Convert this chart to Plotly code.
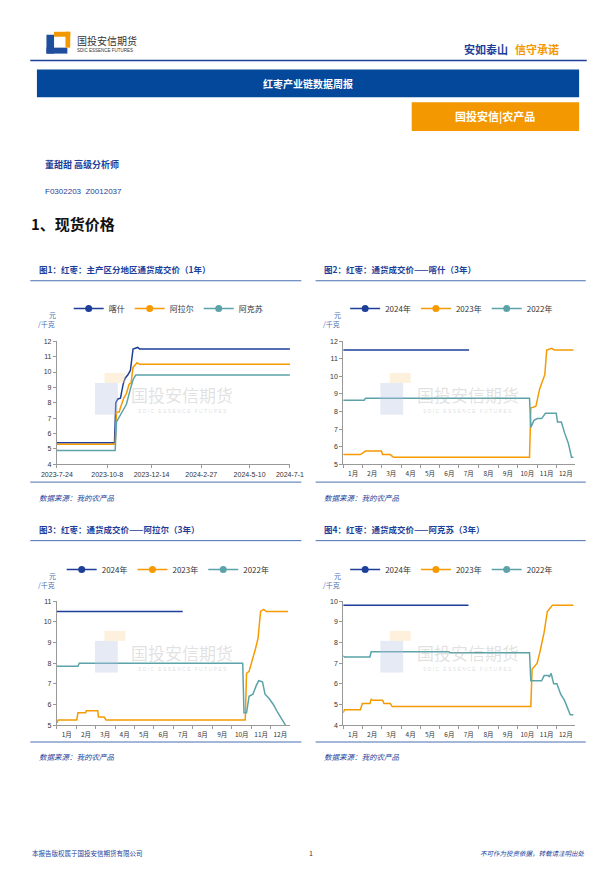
import plotly.graph_objects as go

W, H = 615, 870
def px(x): return x / W
def py(y): return 1 - y / H

NAVY, ORANGE, TEAL = "#1d3f9a", "#f59a00", "#5ba3a8"
CJK = "Noto Sans CJK SC"

# ---- Chart 1 data (1 year) ----
c1_kashi_d = ["2023-07-24","2023-10-19","2023-10-21","2023-10-24","2023-10-28","2023-11-01","2023-11-04","2023-11-08","2023-11-12","2023-11-16","2023-11-23","2023-11-26","2024-07-10"]
c1_kashi_v = [5.4,5.4,8.0,8.25,8.3,9.2,9.6,9.8,10.1,11.5,11.6,11.5,11.5]
c1_alaer_d = ["2023-07-24","2023-10-20","2023-10-22","2023-10-26","2023-10-29","2023-11-02","2023-11-06","2023-11-10","2023-11-13","2023-11-16","2023-11-22","2023-11-26","2024-07-10"]
c1_alaer_v = [5.3,5.3,7.4,7.4,7.8,8.3,8.6,9.2,9.3,10.3,10.6,10.5,10.5]
c1_akesu_d = ["2023-07-24","2023-10-20","2023-10-22","2023-10-28","2023-11-06","2023-11-12","2023-11-16","2023-11-20","2024-07-10"]
c1_akesu_v = [4.9,4.9,6.75,7.2,7.9,8.9,9.5,9.8,9.8]
c1_ticks = ["2023-07-24","2023-10-08","2023-12-14","2024-02-27","2024-05-10","2024-07-10"]
c1_ticktext = ["2023-7-24","2023-10-8","2023-12-14","2024-2-27","2024-5-10","2024-7-1"]

# ---- Chart 2: Kashi 3 years (mapped onto one calendar year) ----
c2_2024_d = ["01-01","07-17"]; c2_2024_v = [11.5,11.5]
c2_2023_d = ["01-01","01-28","02-05","03-01","03-03","03-15","03-20","10-20","10-22","10-30","11-05","11-09","11-13","11-16","11-24","11-28","12-28"]
c2_2023_v = [5.55,5.55,5.75,5.75,5.55,5.55,5.4,5.4,8.2,8.3,9.3,9.7,10.1,11.5,11.6,11.5,11.5]
c2_2022_d = ["01-01","02-03","02-05","10-20","10-22","10-27","11-01","11-08","11-14","12-01","12-03","12-09","12-14","12-20","12-25","12-28"]
c2_2022_v = [8.65,8.65,8.75,8.75,7.1,7.5,7.6,7.6,7.9,7.9,7.4,7.4,6.8,6.2,5.4,5.4]

# ---- Chart 3: Alaer ----
c3_2024_d = ["01-01","07-16"]; c3_2024_v = [10.5,10.5]
c3_2023_d = ["01-01","01-03","02-01","02-03","02-15","02-16","03-05","03-06","03-15","03-18","10-22","10-24","10-28","11-03","11-07","11-11","11-15","11-20","11-24","12-28"]
c3_2023_v = [5.1,5.25,5.25,5.6,5.6,5.7,5.7,5.4,5.4,5.25,5.25,7.5,7.6,8.2,8.7,9.2,10.5,10.6,10.5,10.5]
c3_2022_d = ["01-01","02-03","02-05","10-18","10-20","10-24","10-28","11-03","11-08","11-12","11-18","11-22","11-28","12-05","12-12","12-24"]
c3_2022_v = [7.85,7.85,8.0,8.0,5.6,5.6,6.4,6.5,6.9,7.15,7.1,6.5,6.3,6.0,5.6,5.0]

# ---- Chart 4: Akesu ----
c4_2024_d = ["01-01","07-16"]; c4_2024_v = [9.8,9.8]
c4_2023_d = ["01-01","01-03","01-28","01-31","02-12","02-14","02-17","03-03","03-05","03-15","03-18","10-22","10-24","11-01","11-05","11-12","11-17","11-25","12-28"]
c4_2023_v = [4.6,4.75,4.75,5.05,5.05,5.25,5.2,5.2,5.05,5.05,4.9,4.9,6.7,7.0,7.5,8.5,9.5,9.8,9.8]
c4_2022_d = ["01-01","01-03","02-12","02-14","06-15","06-17","10-20","10-22","11-08","11-12","11-18","11-20","11-23","11-27","12-02","12-08","12-14","12-23","12-28"]
c4_2022_v = [7.35,7.3,7.3,7.55,7.55,7.5,7.5,6.15,6.15,6.4,6.4,6.35,6.5,6.0,6.0,5.5,5.2,4.5,4.5]

def yr(ds): return ["2024-" + d for d in ds]

fig = go.Figure()

def add(series, xa, ya, lg, names):
    for (d, v, col), name in zip(series, names):
        fig.add_trace(go.Scatter(x=d, y=v, mode="lines", line=dict(color=col, width=1.5),
                                 xaxis=xa, yaxis=ya, showlegend=False, hoverinfo="skip"))
        fig.add_trace(go.Scatter(x=[None], y=[None], mode="lines+markers", name=name,
                                 line=dict(color=col, width=1.5), marker=dict(color=col, size=7),
                                 xaxis=xa, yaxis=ya, legend=lg))

add([(c1_kashi_d, c1_kashi_v, NAVY), (c1_alaer_d, c1_alaer_v, ORANGE), (c1_akesu_d, c1_akesu_v, TEAL)],
    "x", "y", "legend", ["喀什", "阿拉尔", "阿克苏"])
yrs = ["2024年", "2023年", "2022年"]
add([(yr(c2_2024_d), c2_2024_v, NAVY), (yr(c2_2023_d), c2_2023_v, ORANGE), (yr(c2_2022_d), c2_2022_v, TEAL)], "x2", "y2", "legend2", yrs)
add([(yr(c3_2024_d), c3_2024_v, NAVY), (yr(c3_2023_d), c3_2023_v, ORANGE), (yr(c3_2022_d), c3_2022_v, TEAL)], "x3", "y3", "legend3", yrs)
add([(yr(c4_2024_d), c4_2024_v, NAVY), (yr(c4_2023_d), c4_2023_v, ORANGE), (yr(c4_2022_d), c4_2022_v, TEAL)], "x4", "y4", "legend4", yrs)

ax = dict(showgrid=False, showline=True, linecolor="#999", ticks="outside", tickcolor="#999", ticklen=3,
          tickfont=dict(size=7, color="#333", family="Liberation Sans"), zeroline=False)
month_ax = dict(ax, type="date", range=["2024-01-01", "2024-12-31"], dtick="M1", tick0="2024-01-01",
                ticklabelmode="period", tickformat="%-m月", tickangle=0,
                tickfont=dict(size=6.5, color="#333", family=CJK))

fig.update_layout(
    width=W, height=H, margin=dict(l=0, r=0, t=0, b=0),
    paper_bgcolor="white", plot_bgcolor="white",
    xaxis=dict(ax, domain=[px(43), px(288)], anchor="y", type="date", range=["2023-07-24", "2024-07-10"],
               tickvals=c1_ticks, ticktext=c1_ticktext),
    yaxis=dict(ax, domain=[py(464), py(340)], anchor="x", range=[4, 12], dtick=1),
    xaxis2=dict(month_ax, domain=[px(344), px(588)], anchor="y2"),
    yaxis2=dict(ax, domain=[py(464), py(340)], anchor="x2", range=[5, 12], dtick=1),
    xaxis3=dict(month_ax, domain=[px(43), px(288)], anchor="y3"),
    yaxis3=dict(ax, domain=[py(727), py(602)], anchor="x3", range=[5, 11], dtick=1),
    xaxis4=dict(month_ax, domain=[px(344), px(588)], anchor="y4"),
    yaxis4=dict(ax, domain=[py(727), py(602)], anchor="x4", range=[4, 10], dtick=1),
)
lgd = dict(orientation="h", xanchor="center", yanchor="middle", bgcolor="rgba(0,0,0,0)",
           font=dict(size=8, family=CJK, color="#333"), itemwidth=30, tracegroupgap=0)
fig.update_layout(
    legend=dict(lgd, x=px(160), y=py(307)),
    legend2=dict(lgd, x=px(458), y=py(307)),
    legend3=dict(lgd, x=px(160), y=py(570)),
    legend4=dict(lgd, x=px(458), y=py(570)),
)

shapes = []
ann = []
def rect(x0, y0, x1, y1, col):
    shapes.append(dict(type="rect", xref="paper", yref="paper", x0=px(x0), x1=px(x1), y0=py(y1), y1=py(y0),
                       fillcolor=col, line=dict(width=0)))
def hline(x0, x1, y, col, w=1):
    shapes.append(dict(type="line", xref="paper", yref="paper", x0=px(x0), x1=px(x1), y0=py(y), y1=py(y),
                       line=dict(color=col, width=w)))
def text(x, y, s, size, col, xa="left", bold=False, italic=False, fam=CJK, opacity=1):
    if bold: s = "<b>" + s + "</b>"
    if italic: s = "<i>" + s + "</i>"
    ann.append(dict(xref="paper", yref="paper", x=px(x), y=py(y), text=s, showarrow=False, xanchor=xa,
                    yanchor="middle", font=dict(size=size, color=col, family=fam), opacity=opacity))

# header
rect(32, 31, 40, 50, "#1f4e9c"); rect(32, 44, 54, 50, "#1f4e9c"); rect(40, 28, 57, 33, "#f39800"); rect(52, 28, 57, 44, "#f39800")
text(62, 37, "国投安信期货", 10, "#333")
text(62, 47, "SDIC ESSENCE FUTURES", 4.5, "#333", fam="Liberation Sans")
text(519, 45, "安如泰山", 11, "#1d3f9a", xa="right", bold=True)
text(522, 45, "信守承诺", 11, "#f39800", bold=True)
hline(15, 600, 57, "#1d3f9a", 1.5)
rect(22, 66, 592, 94, "#04489c")
text(307, 80, "红枣产业链数据周报", 10, "white", xa="center", bold=True)
rect(416, 99, 592, 128, "#f39800")
text(504, 113, "国投安信|农产品", 11, "white", xa="center", bold=True)
text(28, 162, "董甜甜 高级分析师", 9, "#1d3f9a", bold=True)
text(28, 189, "F0302203  Z0012037", 8, "#1d3f9a", fam="Liberation Sans")
text(14, 221, "1、现货价格", 15, "#111", bold=True)

# chart frames
titles = [(22, 267, "图1：红枣：主产区分地区通货成交价（1年）"), (322, 267, "图2：红枣：通货成交价——喀什（3年）"),
          (22, 529, "图3：红枣：通货成交价——阿拉尔（3年）"), (322, 529, "图4：红枣：通货成交价——阿克苏（3年）")]
for x, y, s in titles:
    text(x, y, s, 8.5, "#1d3f9a", bold=True)
for x0, x1 in [(15, 300), (315, 599)]:
    hline(x0, x1, 279, "#4a6fb0"); hline(x0, x1, 482, "#4a6fb0")
    hline(x0, x1, 541, "#4a6fb0"); hline(x0, x1, 744, "#4a6fb0")
for x, y in [(22, 497), (322, 497), (22, 759), (322, 759)]:
    text(x, y, "数据来源：我的农产品", 7.5, "#1d3f9a", italic=True)
for x, y in [(38, 314), (338, 314), (38, 577), (338, 577)]:
    text(x, y, "元", 7, "#4a6fb0", xa="center")
    text(x - 6, y + 9, "/千克", 7, "#4a6fb0", xa="center")

# watermarks
for x, y in [(165, 392), (465, 392), (165, 652), (465, 652)]:
    rect(x - 82, y - 10, x - 58, y + 22, "rgba(180,195,225,0.35)")
    rect(x - 72, y - 20, x - 50, y - 10, "rgba(250,215,160,0.35)")
    text(x + 10, y + 2, "国投安信期货", 17, "rgba(170,170,170,0.35)", xa="center")
    text(x + 10, y + 18, "S D I C   E S S E N C E   F U T U R E S", 5, "rgba(170,170,170,0.4)", xa="center", fam="Liberation Sans")

# footer
text(15, 856, "本报告版权属于国投安信期货有限公司", 6.5, "#1d3f9a")
text(310, 856, "1", 7, "#333", xa="center")
text(600, 856, "不可作为投资依据，转载请注明出处", 6.5, "#1d3f9a", xa="right", italic=True)

fig.update_layout(shapes=shapes, annotations=ann)
fig.write_html("out.html", config={"responsive": False, "displayModeBar": False})
with open("out.html", encoding="utf-8") as f:
    html = f.read()
html = html.replace("<head>", "<head><style>html,body{margin:0;padding:0;overflow:hidden}</style>", 1)
with open("out.html", "w", encoding="utf-8") as f:
    f.write(html)
